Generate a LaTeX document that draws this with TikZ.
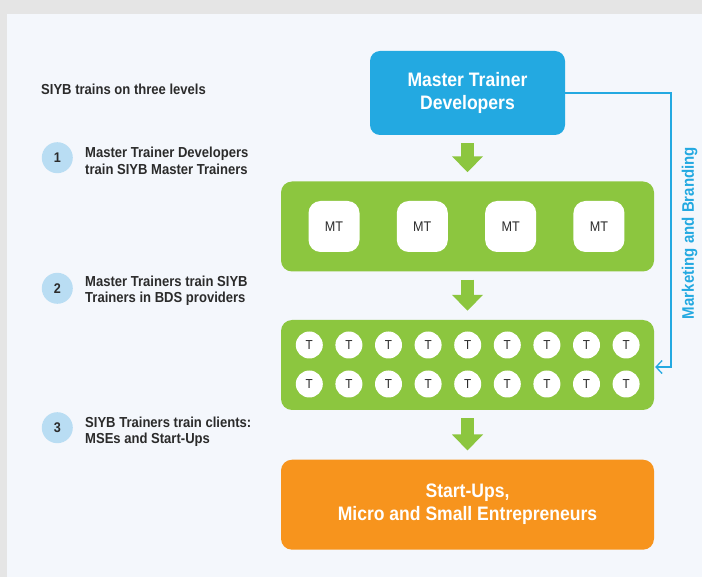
\documentclass[tikz,border=0pt]{standalone}
\usepackage{fontspec}
\setmainfont{Liberation Sans}[FakeStretch=0.9]
\usetikzlibrary{arrows.meta}
\definecolor{siybblue}{HTML}{23A9E1}
\definecolor{siybgreen}{HTML}{8CC63F}
\definecolor{siyborange}{HTML}{F7941D}
\definecolor{numblue}{HTML}{B9DDF3}
\definecolor{panel}{HTML}{F4F7FC}
\definecolor{frame}{HTML}{E5E5E5}
\definecolor{ink}{HTML}{2B2B2B}

\begin{document}
\begin{tikzpicture}
                \tikzset{x=1pt, y=-1pt}
                \tikzstyle{lbl}=[text=ink, font=\fontsize{14.5}{16.6}\selectfont\bfseries, align=left, inner sep=0pt]
                \tikzstyle{num}=[circle, fill=numblue, minimum size=31pt, inner sep=0pt, text=ink, font=\fontsize{14}{16}\selectfont\bfseries]
                \tikzstyle{big}=[rectangle, rounded corners=11pt, minimum width=373pt, minimum height=90pt]
                \tikzstyle{mt}=[rectangle, rounded corners=12pt, fill=white, minimum size=51pt, text=ink, font=\fontsize{14}{16}\selectfont]
                \tikzstyle{tr}=[circle, fill=white, minimum size=27pt, inner sep=0pt, text=ink, font=\fontsize{13}{15}\selectfont]
                \tikzstyle{flow}=[siybgreen, line width=13pt, -{Triangle[width=30pt, length=16pt]}, shorten <=8pt, shorten >=9pt]
                \tikzstyle{link}=[siybblue, line width=1.3pt, -{Straight Barb[length=6pt, width=13pt]}, shorten >=1pt]

                % background
                \fill[frame]        (0, 0)      rectangle (702, 577);
                \fill[panel]        (7, 14)     rectangle (702, 577);

                % levels
                \draw (41, 89)      node[lbl, anchor=west]  (title) {SIYB trains on three levels};
                \draw (57.3, 157.7) node[num]   (n1)    {1};
                \draw (57.3, 288.3) node[num]   (n2)    {2};
                \draw (57.3, 427.7) node[num]   (n3)    {3};
                \draw (85, 161)     node[lbl, anchor=west]  (l1)    {Master Trainer Developers\\train SIYB Master Trainers};
                \draw (85, 290.7)   node[lbl, anchor=west]  (l2)    {Master Trainers train SIYB\\Trainers in BDS providers};
                \draw (85, 431.7)   node[lbl, anchor=west]  (l3)    {SIYB Trainers train clients:\\MSEs and Start-Ups};

                % boxes
                \draw (467.5, 93)   node[rectangle, rounded corners=10pt, fill=siybblue, minimum width=195pt, minimum height=84pt,
                                         text=white, align=center, font=\fontsize{19.5}{23}\selectfont\bfseries] (dev) {Master Trainer\\Developers};
                \draw (467.5, 226.5) node[big, fill=siybgreen] (mts) {};
                \draw (467.5, 365)  node[big, fill=siybgreen] (trs) {};
                \draw (467.5, 504.7) node[big, fill=siyborange, text=white, align=center,
                                         font=\fontsize{19.5}{23}\selectfont\bfseries] (ent) {Start-Ups,\\Micro and Small Entrepreneurs};

                % master trainers
                \foreach \i in {0,...,3}
                    \draw (334+88.33*\i, 226.5) node[mt] (mt\i) {MT};

                % trainers
                \foreach \r/\y in {0/345, 1/384}
                    \foreach \c in {0,...,8}
                        \draw (309.3+39.6*\c, \y) node[tr] (t\r\c) {T};

                % green arrows
                \draw [flow]        (dev) -- (mts);
                \draw [flow]        (mts) -- (trs);
                \draw [flow]        (trs) -- (ent);

                % marketing and branding
                \coordinate (mb) at (671, 367);
                \draw [link]        (dev.east) -| (mb) -- (mb -| trs.east);
                \draw (689.5, 233) node[rotate=90, text=siybblue, font=\fontsize{16.7}{19}\selectfont\bfseries] (mkt) {Marketing and Branding};
            \end{tikzpicture}
\end{document}
